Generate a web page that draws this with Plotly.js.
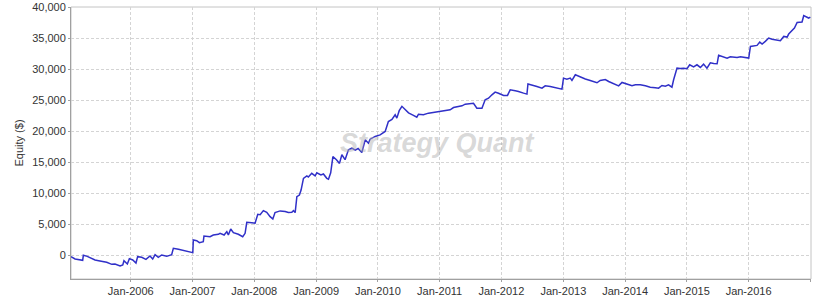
<!DOCTYPE html>
<html>
<head>
<meta charset="utf-8">
<script src="https://cdn.plot.ly/plotly-3.0.1.min.js"></script>
<style>html,body{margin:0;padding:0;background:#fff;}#chart{width:818px;height:300px;}</style>
</head>
<body>
<div id="chart"></div>
<script>
// Equity curve
const dates = [
"2005-01-13","2005-02-06","2005-03-23","2005-03-27","2005-04-19","2005-06-04","2005-07-03","2005-08-12","2005-09-11","2005-09-30",
"2005-10-30","2005-11-15","2005-11-22","2005-12-12","2005-12-24","2006-01-13","2006-02-01","2006-02-11","2006-03-07","2006-04-01",
"2006-04-25","2006-05-11","2006-05-25","2006-06-13","2006-07-03","2006-08-02","2006-08-31","2006-09-10","2006-10-10","2006-11-18",
"2007-01-03","2007-01-06","2007-01-26","2007-02-11","2007-03-06","2007-03-10","2007-04-15","2007-05-04","2007-06-03","2007-06-13",
"2007-07-07","2007-07-23","2007-08-01","2007-08-15","2007-08-31","2007-09-29","2007-10-25","2007-11-08","2007-11-18","2007-12-18",
"2008-01-06","2008-01-22","2008-02-05","2008-02-24","2008-03-15","2008-04-04","2008-04-20","2008-05-03","2008-06-02","2008-07-02",
"2008-07-21","2008-08-10","2008-08-20","2008-08-30","2008-09-09","2008-09-24","2008-10-04","2008-10-18","2008-11-07","2008-11-16",
"2008-12-06","2008-12-26","2009-01-05","2009-01-29","2009-02-13","2009-03-05","2009-03-15","2009-03-28","2009-04-10","2009-05-01",
"2009-05-19","2009-06-02","2009-06-21","2009-07-11","2009-07-31","2009-08-20","2009-09-06","2009-09-28","2009-10-18","2009-11-06",
"2009-11-16","2009-12-16","2010-01-14","2010-02-13","2010-03-04","2010-03-25","2010-04-13","2010-04-23","2010-05-07","2010-05-23",
"2010-06-11","2010-07-01","2010-07-30","2010-08-19","2010-08-29","2010-09-27","2010-10-27","2010-11-26","2011-01-04","2011-02-03",
"2011-03-04","2011-03-24","2011-04-21","2011-05-13","2011-06-01","2011-07-01","2011-07-20","2011-08-09","2011-09-08","2011-09-27",
"2011-10-17","2011-11-06","2011-11-25","2011-12-15","2012-01-14","2012-02-06","2012-02-22","2012-03-23","2012-04-11","2012-05-11",
"2012-05-31","2012-06-06","2012-06-29","2012-07-29","2012-08-28","2012-09-16","2012-10-16","2012-11-24","2012-12-24","2013-01-02",
"2013-01-22","2013-02-11","2013-02-21","2013-03-13","2013-04-11","2013-05-11","2013-06-09","2013-07-19","2013-08-07","2013-09-06",
"2013-09-26","2013-10-25","2013-11-24","2013-12-14","2014-01-12","2014-02-11","2014-03-03","2014-04-01","2014-05-01","2014-05-30",
"2014-06-29","2014-07-18","2014-08-07","2014-08-27","2014-09-15","2014-10-05","2014-10-15","2014-11-04","2014-11-23","2014-12-13",
"2015-01-02","2015-01-18","2015-02-10","2015-03-02","2015-03-22","2015-04-10","2015-04-30","2015-05-20","2015-06-09","2015-06-29",
"2015-07-08","2015-07-28","2015-08-27","2015-09-15","2015-10-05","2015-10-25","2015-11-14","2015-12-03","2016-01-02","2016-01-12",
"2016-01-31","2016-02-20","2016-03-07","2016-03-21","2016-04-09","2016-04-29","2016-05-19","2016-06-18","2016-07-07","2016-07-27",
"2016-08-16","2016-08-25","2016-09-14","2016-09-28","2016-10-14","2016-11-12","2016-11-22","2016-12-08","2016-12-21","2016-12-31"
];
const equity = [
-220,-600,-810,0,-170,-760,-920,-1135,-1460,-1400,
-1730,-1560,-870,-1400,-540,-760,-1240,-220,-330,-650,
-110,-600,100,-330,50,-170,100,1120,960,690,
420,2470,2360,2040,2200,3110,3000,3270,3380,3540,
3270,3810,3270,4240,3650,3380,3000,3540,5320,5260,
5160,6600,6550,7200,6930,6230,5850,6880,7150,7040,
6880,6930,7200,6870,9450,9700,10500,12400,12800,12600,
13200,12800,13300,12950,13100,12400,12250,13300,15900,15400,
14800,16200,15400,17000,17250,16950,17200,16550,18600,18050,
18700,19150,19400,19950,21550,21900,22650,22100,23300,24000,
23550,22950,22550,22250,22730,22650,22900,23050,23160,23300,
23430,23800,23900,24080,24350,24400,24500,23700,23700,25050,
25300,25850,26280,26100,25750,25750,26650,26500,26400,26120,
25960,27600,27460,27200,26930,27300,27200,26930,26770,28540,
28380,28540,28160,29080,28700,28400,28160,27790,28160,28320,
28000,27600,27300,27840,27600,27300,27460,27460,27300,27090,
27000,26930,27360,27250,27460,27090,28270,30150,30100,30150,
30050,30690,30350,30690,30260,30800,30150,31010,30900,30850,
32210,32000,31770,31980,31950,31870,31980,31870,31770,33650,
33700,33810,34350,34030,34460,35000,34800,34730,34570,35260,
35150,35640,36180,36610,37520,37580,38600,38380,38220,38380
];
const xRange = ["2005-01-13", "2017-01-04"];
const yRange = [-3820, 40000];
const yTitle = "Equity ($)";
const watermark = "Strategy Quant";

const tickFont = {family: "Liberation Sans, Arial, sans-serif", size: 11, color: "#333333"};

const trace = {
  x: dates, y: equity, type: "scatter", mode: "lines",
  line: {color: "#3030c8", width: 1.5},
  hoverinfo: "skip"
};

const layout = {
  width: 818, height: 300,
  margin: {l: 71, r: 7, t: 7, b: 21, pad: 0},
  paper_bgcolor: "#ffffff", plot_bgcolor: "#ffffff",
  showlegend: false,
  xaxis: {
    type: "date", range: xRange, tick0: "2006-01-01", dtick: "M12", tickformat: "%b-%Y",
    showgrid: true, gridcolor: "#d4d4d4", griddash: "3px,2px", gridwidth: 1,
    showline: true, linecolor: "#a0a0a0", linewidth: 1,
    ticks: "outside", ticklen: 2, tickcolor: "#a0a0a0",
    tickfont: tickFont, zeroline: false, fixedrange: true
  },
  yaxis: {
    range: yRange, dtick: 5000, tick0: 0, tickformat: ",d",
    showgrid: true, gridcolor: "#d4d4d4", griddash: "3px,2px", gridwidth: 1,
    showline: true, linecolor: "#a0a0a0", linewidth: 1,
    ticks: "outside", ticklen: 2, tickcolor: "#a0a0a0",
    tickfont: tickFont, zeroline: false, fixedrange: true,
    title: {text: yTitle, font: tickFont, standoff: 6}
  },
  shapes: [{
    type: "rect", xref: "paper", yref: "paper", x0: 0, x1: 1, y0: 0, y1: 1,
    line: {color: "#c4c4c4", width: 1}, layer: "below"
  }],
  annotations: [{
    xref: "paper", yref: "paper", x: 0.495, y: 0.5, xanchor: "center", yanchor: "middle",
    text: "<b><i>" + watermark + "</i></b>", showarrow: false,
    font: {family: "Liberation Sans, Arial, sans-serif", size: 27, color: "rgba(170,170,170,0.45)"}
  }]
};

Plotly.newPlot("chart", [trace], layout, {staticPlot: true, displayModeBar: false});
</script>
</body>
</html>
